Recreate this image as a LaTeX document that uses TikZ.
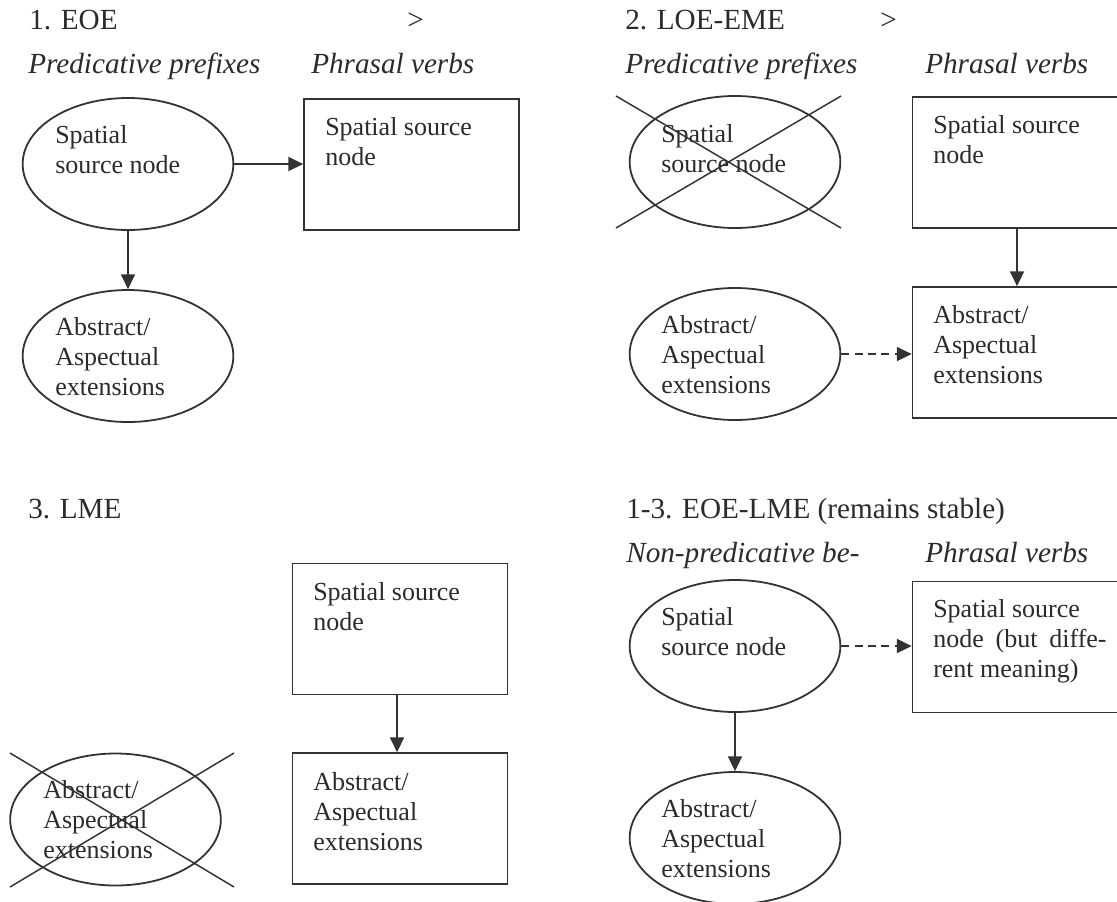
\documentclass[tikz,border=0pt]{standalone}
\usepackage{fontspec}
\setmainfont{Liberation Serif}
\usetikzlibrary{arrows.meta,shapes.geometric}
\definecolor{ink}{HTML}{333333}
\definecolor{txt}{HTML}{2B2B2B}
% left-aligned block of lines whose baseline is the first line
\newcommand{\nodelines}[1]{\begin{tabular}[t]{@{}l@{}}#1\end{tabular}}

\begin{document}
\begin{tikzpicture}[x=0.75pt,y=-0.75pt,
  shapeline/.style={draw=ink, line width=1.35pt},
  oval/.style={shapeline, ellipse, minimum width=158pt, minimum height=99pt, inner sep=0pt},
  boxnode/.style={shapeline, rectangle, minimum width=161.25pt, minimum height=98.25pt, inner sep=0pt},
  headtext/.style={anchor=base west, inner sep=0pt, text=txt, font=\fontsize{21.9}{26}\selectfont},
  coltext/.style={anchor=base west, inner sep=0pt, text=txt, font=\fontsize{21.9}{26}\selectfont\itshape},
  nodetext/.style={anchor=base west, inner sep=0pt, text=txt, font=\fontsize{19.5}{22.5}\selectfont},
  link/.style={draw=ink, line width=1.35pt, -{Triangle[length=11pt,width=10.5pt]}},
  dashlink/.style={link, dash pattern=on 6pt off 4pt},
  strike/.style={draw=ink, line width=1.1pt}
]
\useasboundingbox (0,0) rectangle (1117,901);
\fill[white] (0,0) rectangle (1117,901);
\clip (0,0) rectangle (1117,901);

% ---------- 1. EOE ----------
\node[headtext] (h1) at (29,29) {1. EOE};
\node[headtext] (g1) at (407,29) {>};
\node[coltext] (c1l) at (28,73) {Predicative prefixes};
\node[coltext] (c1r) at (311,73) {Phrasal verbs};
\node[oval] (e1a) at (128,164) {};
\node[boxnode] (b1a) at (411.5,164.5) {};
\node[oval] (e1b) at (128,356) {};
\node[nodetext] (t1a) at (55,143) {\nodelines{Spatial\\source node}};
\node[nodetext] (t1b) at (325,135) {\nodelines{Spatial source\\node}};
\node[nodetext] (t1c) at (55,335) {\nodelines{Abstract/\\Aspectual\\extensions}};
\draw[link] (e1a.east) -- (e1a.east -| b1a.west);
\draw[link] (e1a.south) -- (e1b.north);

% ---------- 2. LOE-EME ----------
\node[headtext] (h2) at (625,29) {2. LOE-EME};
\node[headtext] (g2) at (880,29) {>};
\node[coltext] (c2l) at (625,73) {Predicative prefixes};
\node[coltext] (c2r) at (925,73) {Phrasal verbs};
\node[oval] (e2a) at (735,162) {};
\node[boxnode] (b2a) at (1020,162.5) {};
\node[boxnode] (b2b) at (1020,352.5) {};
\node[oval] (e2b) at (735,354) {};
\node[nodetext] (t2a) at (661,142) {\nodelines{Spatial\\source node}};
\node[nodetext] (t2b) at (933,133) {\nodelines{Spatial source\\node}};
\node[nodetext] (t2c) at (933,323) {\nodelines{Abstract/\\Aspectual\\extensions}};
\node[nodetext] (t2d) at (661,333) {\nodelines{Abstract/\\Aspectual\\extensions}};
\draw[strike] (616,96) -- (841,228);
\draw[strike] (616,228) -- (841,96);
\draw[link] ([xshift=-2.25pt]b2a.south) -- ([xshift=-2.25pt]b2b.north);
\draw[dashlink] (e2b.east) -- (e2b.east -| b2b.west);

% ---------- 3. LME ----------
\node[headtext] (h3) at (28,518) {3. LME};
\node[boxnode] (b3a) at (400,629) {};
\node[boxnode] (b3b) at (400,818.5) {};
\node[oval] (e3) at (115.5,819.5) {};
\node[nodetext] (t3a) at (313,600) {\nodelines{Spatial source\\node}};
\node[nodetext] (t3b) at (313,790) {\nodelines{Abstract/\\Aspectual\\extensions}};
\node[nodetext] (t3c) at (43,798) {\nodelines{Abstract/\\Aspectual\\extensions}};
\draw[strike] (10,753) -- (234,887);
\draw[strike] (10,887) -- (234,753);
\draw[link] ([xshift=-2.25pt]b3a.south) -- ([xshift=-2.25pt]b3b.north);

% ---------- 1-3. EOE-LME ----------
\node[headtext] (h4) at (626,518) {1-3. EOE-LME (remains stable)};
\node[coltext] (c4l) at (626,562) {Non-predicative be-};
\node[coltext] (c4r) at (925,562) {Phrasal verbs};
\node[oval] (e4a) at (735,646) {};
\node[boxnode] (b4a) at (1020,647) {};
\node[oval] (e4b) at (735,838) {};
\node[nodetext] (t4a) at (661,625) {\nodelines{Spatial\\source node}};
\node[nodetext] (t4b) at (933,617) {\nodelines{Spatial source\\\makebox[130pt][s]{node (but diffe-}\\rent meaning)}};
\node[nodetext] (t4c) at (661,817) {\nodelines{Abstract/\\Aspectual\\extensions}};
\draw[dashlink] (e4a.east) -- (e4a.east -| b4a.west);
\draw[link] (e4a.south) -- (e4b.north);
\end{tikzpicture}
\end{document}
